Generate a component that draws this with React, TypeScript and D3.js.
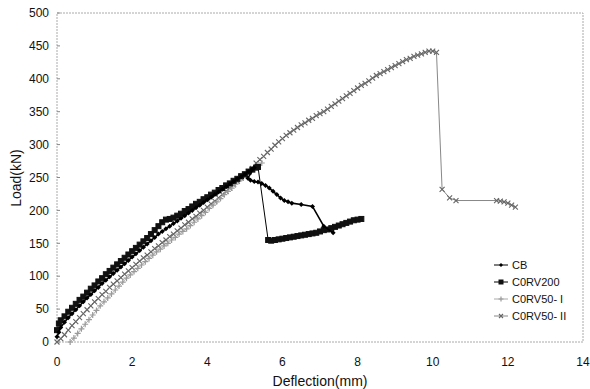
import React from 'react';
import * as d3 from 'd3';

type Pt = [number, number];

// readings: [deflection mm, load kN]
const cb: Pt[] = [
  [0, 8], [0.05, 15], [0.1, 22], [0.2, 30], [0.3, 37], [0.4, 43], [0.5, 49], [0.6, 55], [0.7, 61], [0.8, 67],
  [0.9, 72], [1.0, 78], [1.1, 83], [1.2, 89], [1.3, 94], [1.4, 99], [1.5, 104], [1.6, 109], [1.7, 114], [1.8, 119],
  [1.9, 124], [2.0, 129], [2.1, 134], [2.2, 139], [2.3, 144], [2.4, 149], [2.5, 154], [2.6, 159], [2.7, 164],
  [2.8, 168], [2.9, 172], [3.0, 176], [3.1, 180], [3.2, 184], [3.3, 188], [3.4, 192], [3.5, 196], [3.6, 200],
  [3.7, 204], [3.8, 208], [3.9, 212], [4.0, 216], [4.1, 220], [4.2, 224], [4.3, 228], [4.4, 232], [4.5, 236],
  [4.6, 240], [4.7, 244], [4.8, 248], [4.9, 251], [5.0, 255], [5.1, 259], [5.2, 263], [5.25, 265],
  [5.08, 249], [5.15, 246], [5.25, 244], [5.35, 243], [5.45, 241], [5.55, 238], [5.65, 234], [5.75, 229],
  [5.85, 224], [5.95, 219], [6.05, 215], [6.15, 213], [6.25, 211], [6.5, 209], [6.8, 206], [7.1, 176], [7.35, 166],
];

const corv200: Pt[] = [
  [0, 18], [0.05, 28], [0.1, 33], [0.2, 39], [0.3, 46], [0.4, 52], [0.5, 58], [0.6, 64], [0.7, 69], [0.8, 75],
  [0.9, 81], [1.0, 86], [1.1, 92], [1.2, 97], [1.3, 103], [1.4, 108], [1.5, 113], [1.6, 118], [1.7, 123],
  [1.8, 128], [1.9, 133], [2.0, 138], [2.1, 143], [2.2, 148], [2.3, 153], [2.4, 158], [2.5, 164], [2.6, 170],
  [2.7, 176], [2.8, 182], [2.9, 186], [3.0, 187], [3.1, 189], [3.2, 192], [3.3, 195], [3.4, 199], [3.5, 202],
  [3.6, 206], [3.7, 210], [3.8, 213], [3.9, 217], [4.0, 220], [4.1, 224], [4.2, 227], [4.3, 231], [4.4, 234],
  [4.5, 238], [4.6, 241], [4.7, 245], [4.8, 248], [4.9, 252], [5.0, 255], [5.1, 259], [5.2, 262], [5.3, 265],
  [5.35, 266],
  [5.62, 155], [5.7, 154], [5.8, 155], [5.9, 156], [6.0, 157], [6.1, 158], [6.2, 159], [6.3, 160], [6.4, 161],
  [6.5, 162], [6.6, 163], [6.7, 164], [6.8, 165], [6.9, 166], [7.0, 168], [7.1, 170], [7.2, 171], [7.3, 173],
  [7.4, 175], [7.5, 177], [7.6, 179], [7.7, 181], [7.8, 183], [7.9, 185], [8.0, 186], [8.1, 187],
];

const corv50a: Pt[] = [
  [0.35, 0], [0.45, 6], [0.55, 13], [0.65, 20], [0.75, 27], [0.85, 34], [0.95, 41], [1.05, 48], [1.15, 55],
  [1.25, 61], [1.35, 67], [1.45, 73], [1.55, 79], [1.65, 85], [1.75, 91], [1.85, 97], [1.95, 102], [2.05, 107],
  [2.15, 112], [2.25, 117], [2.35, 122], [2.45, 127], [2.55, 132], [2.65, 137], [2.75, 141], [2.85, 146],
  [2.95, 150], [3.05, 155], [3.15, 159], [3.25, 164], [3.35, 168], [3.45, 172], [3.55, 177], [3.65, 182],
  [3.75, 187], [3.85, 192], [3.95, 197], [4.05, 203], [4.15, 208], [4.25, 213], [4.35, 218], [4.45, 224],
  [4.55, 229], [4.65, 234], [4.75, 240], [4.85, 245], [4.95, 250], [5.05, 255], [5.15, 260], [5.25, 265],
  [5.35, 269], [5.45, 272],
];

const corv50b: Pt[] = [
  [0, 0], [0.1, 5], [0.2, 11], [0.3, 18], [0.4, 25], [0.5, 31], [0.6, 37], [0.7, 43], [0.8, 49], [0.9, 55],
  [1.0, 61], [1.1, 66], [1.2, 72], [1.3, 77], [1.4, 83], [1.5, 88], [1.6, 93], [1.7, 98], [1.8, 103], [1.9, 108],
  [2.0, 113], [2.1, 118], [2.2, 123], [2.3, 128], [2.4, 132], [2.5, 137], [2.6, 142], [2.7, 146], [2.8, 151],
  [2.9, 155], [3.0, 160], [3.1, 164], [3.2, 169], [3.3, 173], [3.4, 178], [3.5, 182], [3.6, 187], [3.7, 191],
  [3.8, 196], [3.9, 200], [4.0, 205], [4.1, 210], [4.2, 214], [4.3, 219], [4.4, 224], [4.5, 229], [4.6, 234],
  [4.7, 239], [4.8, 244], [4.9, 249], [5.0, 254], [5.1, 259], [5.2, 264], [5.3, 272], [5.4, 277], [5.5, 282],
  [5.6, 288], [5.7, 293], [5.8, 299], [5.9, 304], [6.0, 309], [6.1, 314], [6.2, 318], [6.3, 322], [6.4, 326],
  [6.5, 330], [6.6, 333], [6.7, 337], [6.8, 340], [6.9, 344], [7.0, 347], [7.1, 350], [7.2, 354], [7.3, 358],
  [7.4, 362], [7.5, 366], [7.6, 370], [7.7, 374], [7.8, 378], [7.9, 382], [8.0, 386], [8.1, 390], [8.2, 393],
  [8.3, 397], [8.4, 401], [8.5, 405], [8.6, 408], [8.7, 411], [8.8, 414], [8.9, 417], [9.0, 420], [9.1, 423],
  [9.2, 426], [9.3, 429], [9.4, 431], [9.5, 434], [9.6, 436], [9.7, 438], [9.8, 440], [9.9, 442], [10.0, 442],
  [10.1, 440], [10.25, 232], [10.45, 219], [10.62, 215], [11.7, 215], [11.8, 214], [11.9, 213], [12.0, 211],
  [12.1, 208], [12.2, 205],
];

const xTicks = [0, 2, 4, 6, 8, 10, 12, 14];
const yTicks = [0, 50, 100, 150, 200, 250, 300, 350, 400, 450, 500];
const legendNames = ['CB', 'C0RV200', 'C0RV50- I', 'C0RV50- II'];

const W = 590, H = 389;
const m = { left: 57, right: 7, top: 13, bottom: 47 };

const x = d3.scaleLinear().domain([0, 14]).range([m.left, W - m.right]);
const y = d3.scaleLinear().domain([0, 500]).range([H - m.bottom, m.top]);

const line = d3.line<Pt>().x(d => x(d[0])).y(d => y(d[1]));

const font = 'Liberation Sans, Arial, sans-serif';

const series = [
  { name: legendNames[0], data: cb, stroke: '#000', width: 1.6, marker: 'diamond', mColor: '#000', size: 5 },
  { name: legendNames[1], data: corv200, stroke: '#000', width: 1, marker: 'square', mColor: '#111', size: 5 },
  { name: legendNames[2], data: corv50a, stroke: '#aaa', width: 1, marker: 'plus', mColor: '#9a9a9a', size: 6 },
  { name: legendNames[3], data: corv50b, stroke: '#888', width: 1, marker: 'cross', mColor: '#666', size: 5 },
];

function Marker({ kind, cx, cy, color, s }: { kind: string; cx: number; cy: number; color: string; s: number }) {
  const h = s / 2;
  if (kind === 'diamond')
    return <path d={`M${cx},${cy - h}L${cx + h},${cy}L${cx},${cy + h}L${cx - h},${cy}Z`} fill={color} />;
  if (kind === 'square')
    return <rect x={cx - h} y={cy - h} width={s} height={s} fill={color} stroke={color} strokeWidth={1} />;
  if (kind === 'plus')
    return <path d={`M${cx - h},${cy}H${cx + h}M${cx},${cy - h}V${cy + h}`} stroke={color} strokeWidth={1.2} />;
  return <path d={`M${cx - h},${cy - h}L${cx + h},${cy + h}M${cx - h},${cy + h}L${cx + h},${cy - h}`} stroke={color} strokeWidth={1.1} />;
}

export default function App() {
  const lx = 494, ly = 265, lstep = 17;
  return (
    <svg width={W} height={H} style={{ position: 'absolute', left: 0, top: 0, background: '#fff' }}>
      <rect width={W} height={H} fill="#fff" />
      {/* frame */}
      <rect x={m.left} y={m.top} width={W - m.left - m.right} height={H - m.top - m.bottom}
        fill="none" stroke="#aaa" strokeWidth={1} strokeDasharray="2,1" />
      {yTicks.map(t => (
        <g key={t}>
          <line x1={m.left} x2={m.left + 3} y1={y(t)} y2={y(t)} stroke="#888" />
          <text x={m.left - 8} y={y(t)} dy="0.35em" textAnchor="end" fontSize={12} fontFamily={font} fill="#111">{t}</text>
        </g>
      ))}
      {xTicks.map(t => (
        <text key={t} x={x(t)} y={H - m.bottom + 20} dy="0.35em" textAnchor="middle" fontSize={12} fontFamily={font} fill="#111">{t}</text>
      ))}
      <text x={320} y={381} dy="0.35em" textAnchor="middle" fontSize={14} fontFamily={font} fill="#111">Deflection(mm)</text>
      <text transform="translate(16,178) rotate(-90)" dy="0.35em" textAnchor="middle" fontSize={14} fontFamily={font} fill="#111">Load(kN)</text>

      {series.slice().reverse().map(s => (
        <g key={s.name}>
          <path d={line(s.data) ?? ''} fill="none" stroke={s.stroke} strokeWidth={s.width} />
          {s.data.map((d, i) => (
            <Marker key={i} kind={s.marker} cx={x(d[0])} cy={y(d[1])} color={s.mColor} s={s.size} />
          ))}
        </g>
      ))}

      {series.map((s, i) => (
        <g key={s.name}>
          <line x1={lx} x2={lx + 14} y1={ly + i * lstep} y2={ly + i * lstep} stroke={s.stroke} strokeWidth={1} />
          <Marker kind={s.marker} cx={lx + 7} cy={ly + i * lstep} color={s.mColor} s={s.size - 1} />
          <text x={lx + 18} y={ly + i * lstep} dy="0.35em" fontSize={11} fontFamily={font} fill="#111">{s.name}</text>
        </g>
      ))}
    </svg>
  );
}
